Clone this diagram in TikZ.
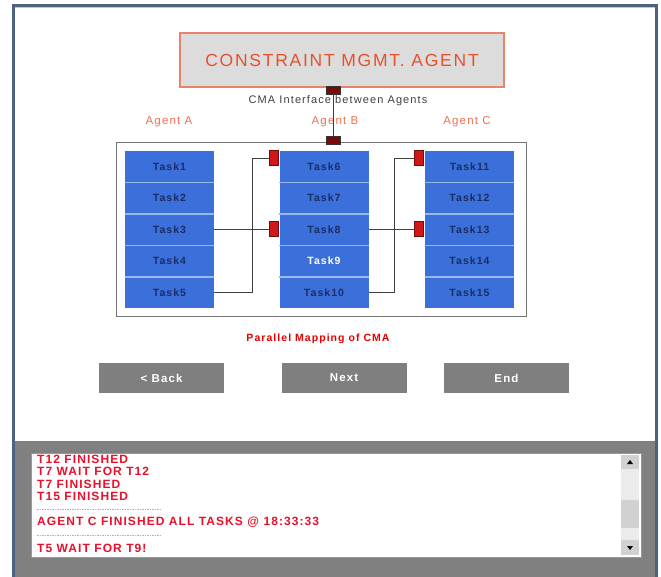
\documentclass[tikz,border=0pt]{standalone}
\usepackage{fontspec}
\setmainfont{Liberation Sans}
\newfontfamily\uifont{Liberation Sans}[LetterSpace=10]
\newfontfamily\logfont{Liberation Sans}[LetterSpace=9]
\usetikzlibrary{positioning}

\definecolor{frameblue}{HTML}{4D6282}
\definecolor{titlegray}{HTML}{DCDCDC}
\definecolor{titleedge}{HTML}{E8826A}
\definecolor{titleink}{HTML}{E8502A}
\definecolor{agentink}{HTML}{F07050}
\definecolor{portred}{HTML}{7A0A0A}
\definecolor{markred}{HTML}{D01818}
\definecolor{taskblue}{HTML}{3B6FD9}
\definecolor{taskline}{HTML}{9AB8F0}
\definecolor{taskink}{HTML}{1B2D66}
\definecolor{btngray}{HTML}{7F7F7F}
\definecolor{loggray}{HTML}{808080}
\definecolor{logred}{HTML}{E8102A}

\begin{document}
\begin{tikzpicture}
[x=1pt,y=-1pt,
 task/.style={fill=taskblue,minimum width=89pt,minimum height=31.4pt,inner sep=0pt,
   text=taskink,font=\uifont\bfseries\fontsize{10.5}{11}\selectfont},
 port/.style={fill=portred,draw=black!80,line width=0.4pt,minimum width=14pt,minimum height=8pt,inner sep=0pt},
 marker/.style={fill=markred,draw=portred,line width=0.6pt,minimum width=9pt,minimum height=15pt,inner sep=0pt},
 agent/.style={text=agentink,font=\uifont\fontsize{11.5}{12}\selectfont},
 button/.style={fill=btngray,minimum width=125pt,minimum height=30pt,inner sep=0pt,
   text=white,font=\uifont\bfseries\fontsize{11.5}{12}\selectfont},
 logline/.style={anchor=west,inner sep=0pt,text=logred,font=\logfont\bfseries\fontsize{12}{12}\selectfont},
 wire/.style={draw=black!75,line width=0.8pt}]
\useasboundingbox (0,0) rectangle (661,577);

% window
\fill[white] (13,5) rectangle (657,577);
\fill[loggray] (15,441) rectangle (655,577);
\draw[frameblue,line width=3pt] (13.5,577) -- (13.5,5.5) -- (656.5,5.5) -- (656.5,577);
\draw[frameblue!35,line width=1pt] (15,8) -- (655,8);

% agent
\node[fill=titlegray,draw=titleedge,line width=1.6pt,minimum width=324pt,minimum height=54pt,
  text=titleink,font=\uifont\fontsize{17.5}{18}\selectfont] (cma) at (342,60) {CONSTRAINT MGMT. AGENT};
\node[port] (cmaport) at (333,90) {};
\node[text=black!75,font=\uifont\fontsize{11}{11}\selectfont] (iface) at (338,101) {CMA Interface between Agents};

\node[agent] (agA) at (169,122) {Agent A};
\node[agent] (agB) at (335,122) {Agent B};
\node[agent] (agC) at (467,122) {Agent C};

\node[draw=black!55,line width=1pt,fill=white,minimum width=410pt,minimum height=173pt] (frame) at (321,229.5) {};
\node[port] (busport) at (333,140) {};
\draw[wire] (cmaport) -- (busport);

% tasks
\foreach \col/\x/\first in {0/169.5/1,1/324/6,2/469.5/11}
  \foreach \row in {1,...,5}{
    \pgfmathtruncatemacro{\n}{\first+\row-1}
    \node[task] (t\n) at (\x,{151+31.4*(\row-0.5)}) {Task\n};
  }
\node[task,text=white] at (t9) {Task9};
\foreach \n in {1,2,3,4,6,7,8,9,11,12,13,14}
  \draw[taskline,line width=1.5pt] (t\n.south west) -- (t\n.south east);

% links between agents
\node[marker] (mB1) at (273.5,158) {};
\node[marker] (mB2) at (273.5,229) {};
\node[marker] (mC1) at (418.5,158) {};
\node[marker] (mC2) at (418.5,229) {};
\draw[wire] (t3.east) -- (t3.east -| mB2.west);
\draw[wire] (t5.east) -- ++(38,0) |- (mB1.west);
\draw[wire] (t8.east) -- (t8.east -| mC2.west);
\draw[wire] (t10.east) -- ++(26,0) |- (mC1.west);

\node[text=red!90!black,font=\uifont\bfseries\fontsize{10.5}{11}\selectfont] (pmap) at (318,339) {Parallel Mapping of CMA};

\node[button] (back) at (161.5,378) {< Back};
\node[button] (next) at (344,378) {Next};
\node[button] (end) at (506.5,378) {End};

% log
\node[draw=black!40,fill=white,minimum width=610pt,minimum height=104pt,inner sep=0pt] (log) at (336,505) {};
\fill[black!8] (621,455) rectangle (639,555);
\fill[black!18] (621,455) rectangle (639,469);
\fill[black!18] (621,540) rectangle (639,555);
\fill[black!18] (621,500) rectangle (639,528);
\fill[black] (627,464) -- (633,464) -- (630,460) -- cycle;
\fill[black] (627,546) -- (633,546) -- (630,550) -- cycle;

\node[logline] (l1) at (37,459) {T12 FINISHED};
\node[logline] (l2) at (37,471.5) {T7 WAIT FOR T12};
\node[logline] (l3) at (37,484) {T7 FINISHED};
\node[logline] (l4) at (37,496.5) {T15 FINISHED};
\draw[logred!45,line width=0.8pt,dash pattern=on 1.5pt off 1pt] (37,509) -- (160,509);
\node[logline] (l5) at (37,522) {AGENT C FINISHED ALL TASKS @ 18:33:33};
\draw[logred!45,line width=0.8pt,dash pattern=on 1.5pt off 1pt] (37,535) -- (160,535);
\node[logline] (l6) at (37,548) {T5 WAIT FOR T9!};
\end{tikzpicture}
\end{document}
